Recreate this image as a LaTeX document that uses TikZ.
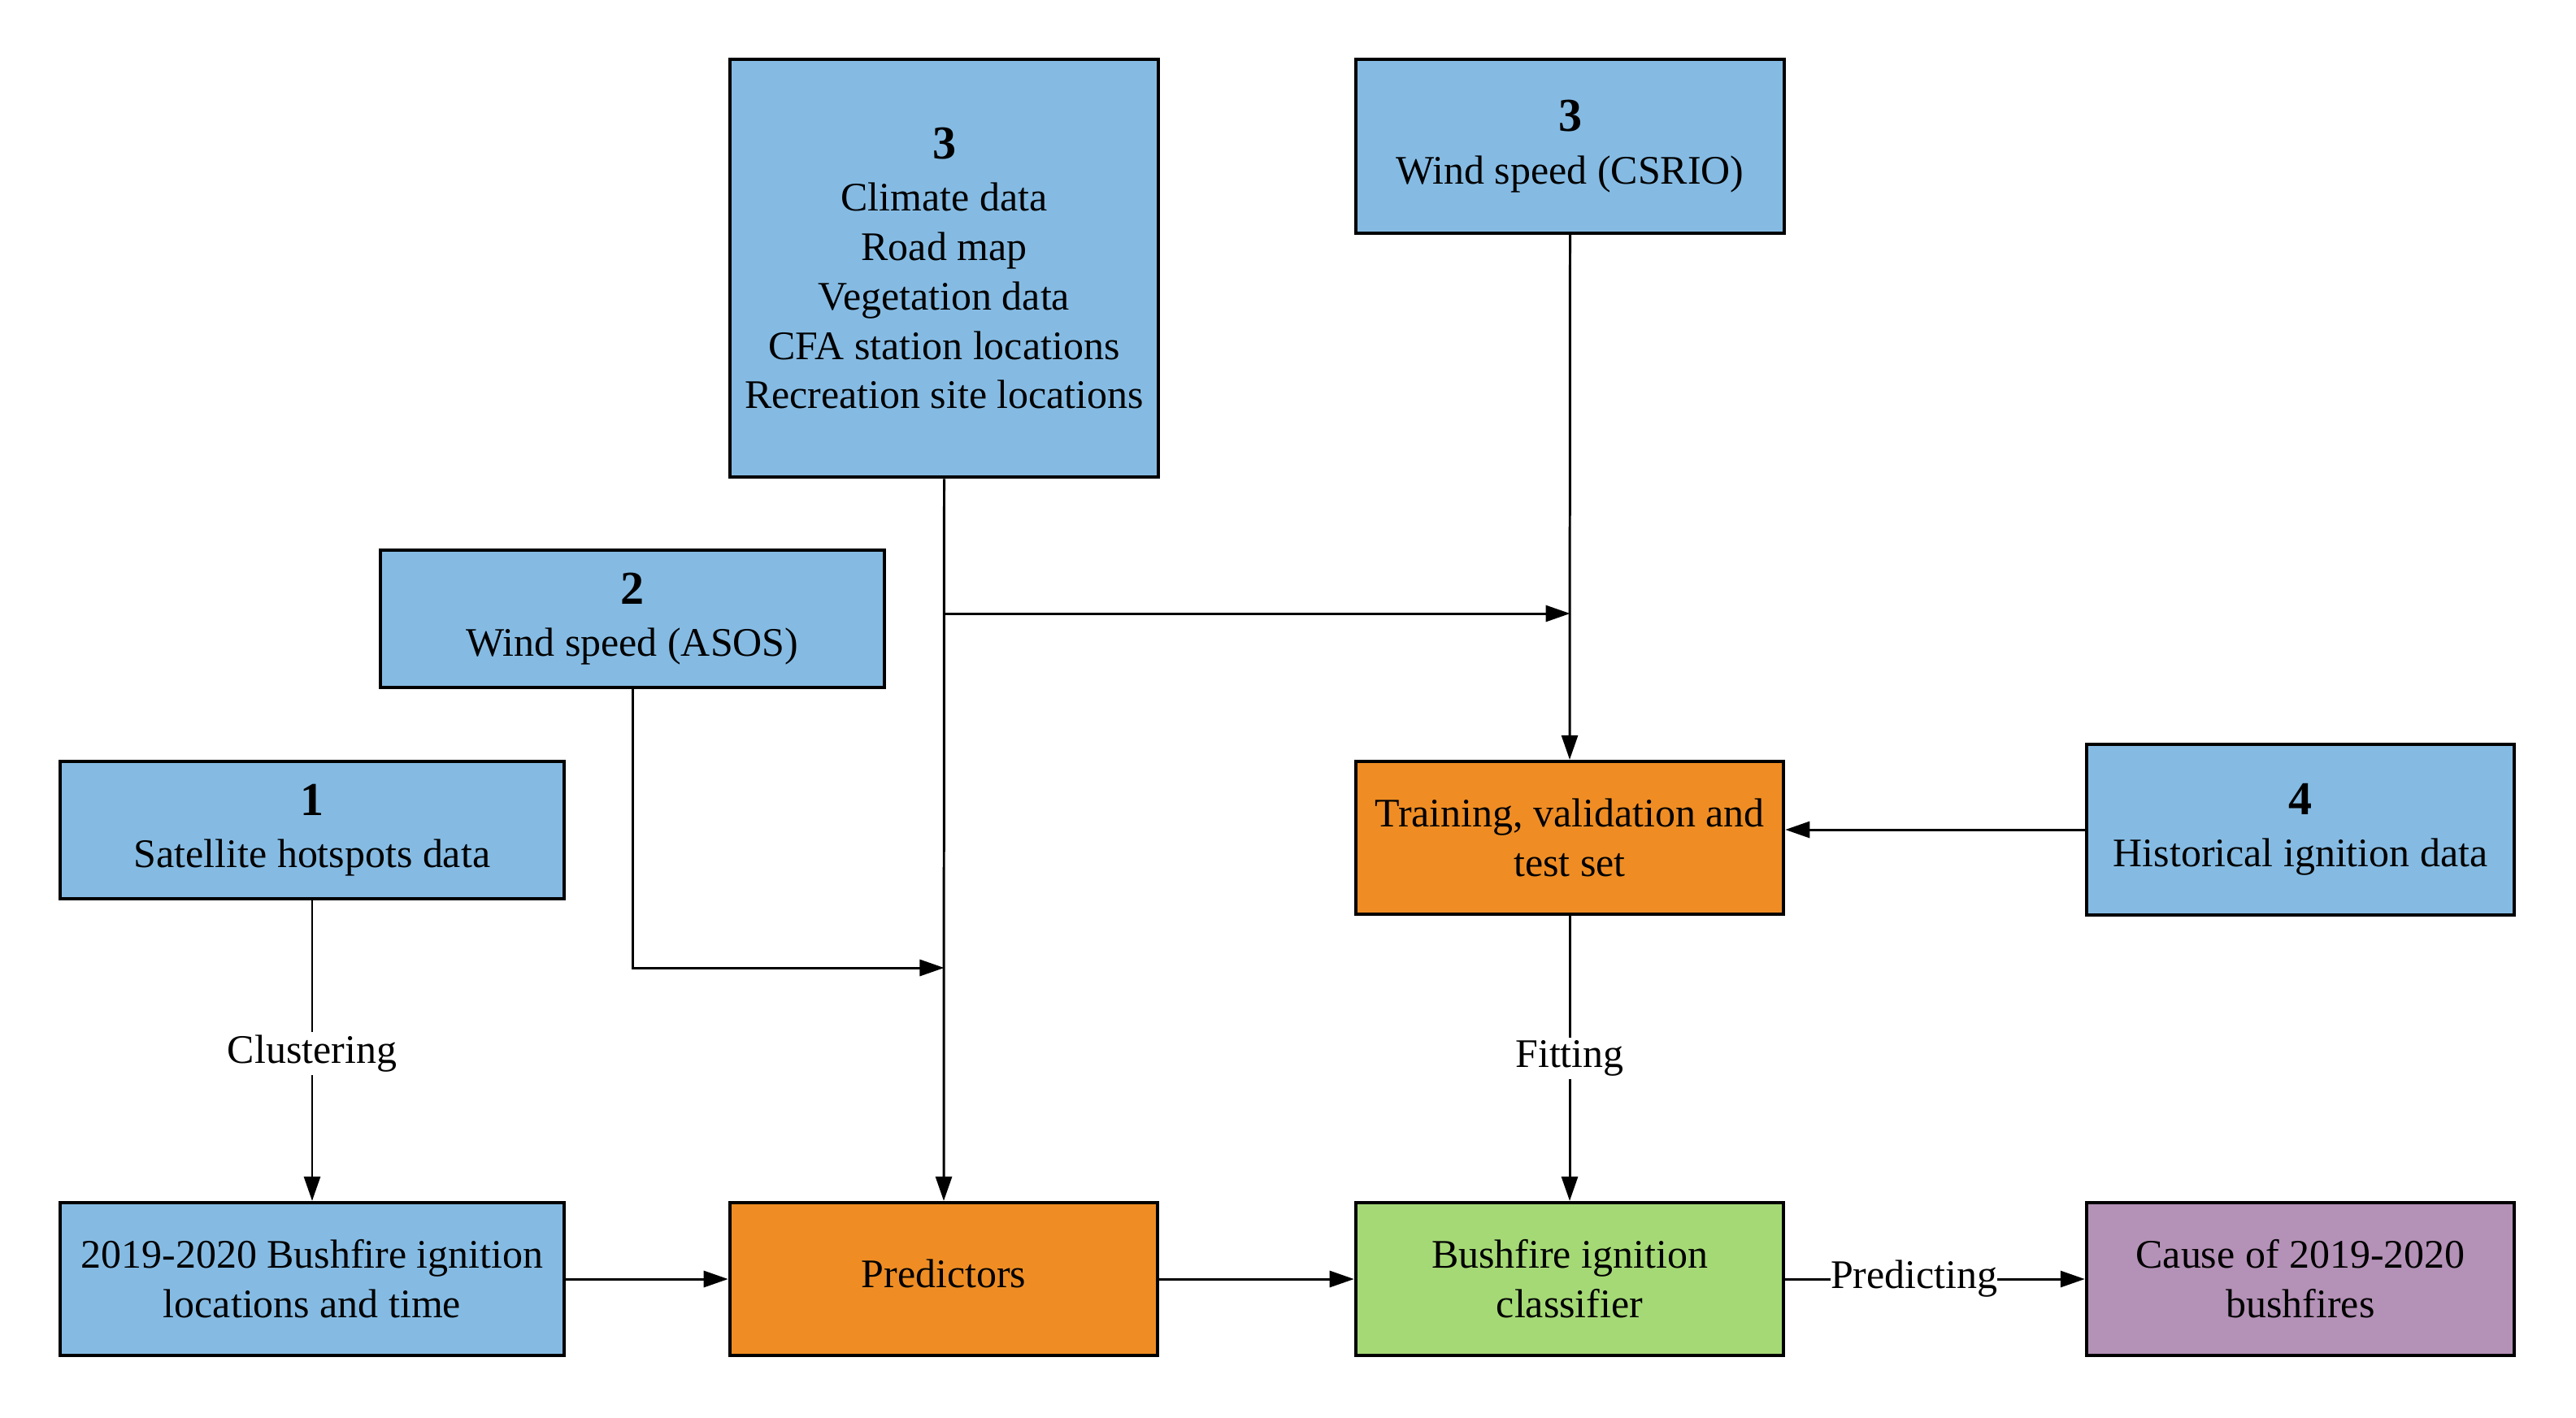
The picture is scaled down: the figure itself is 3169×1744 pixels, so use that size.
\documentclass[tikz,border=0pt]{standalone}
\usepackage{fontspec}
\setmainfont{Liberation Serif}
\usetikzlibrary{arrows.meta,calc}
\definecolor{cblue}{RGB}{133,187,227}
\definecolor{corange}{RGB}{239,141,36}
\definecolor{cgreen}{RGB}{165,217,118}
\definecolor{cpurple}{RGB}{180,145,182}
\begin{document}
\begin{tikzpicture}[x=0.01cm,y=-0.01cm,
  box/.style={draw=black,line width=1.2pt,align=center,inner sep=0pt,
    font=\fontsize{14.2}{17.3}\selectfont},
  bluebox/.style={box,fill=cblue},
  orbox/.style={box,fill=corange},
  conn/.style={line width=0.85pt,-{Triangle[length=0.3cm,width=0.2cm]}},
  lbl/.style={fill=white,inner sep=1pt,font=\fontsize{14.2}{16}\selectfont}]
\useasboundingbox (0,0) rectangle (3169,1744);
\newcommand{\numb}[1]{{\fontsize{16.5}{19}\selectfont\bfseries #1}}
\node[bluebox,minimum width=5.27cm,minimum height=5.14cm] (b3) at (1161.5,330)
  {\numb{3}\\[1pt] Climate data\\ Road map\\ Vegetation data\\ CFA station locations\\ Recreation site locations};
\node[bluebox,minimum width=5.27cm,minimum height=2.14cm] (cs) at (1931.5,180)
  {\numb{3}\\[1pt] Wind speed (CSRIO)};
\node[bluebox,minimum width=6.2cm,minimum height=1.69cm] (b2) at (778,761.5)
  {\numb{2}\\[1pt] Wind speed (ASOS)};
\node[bluebox,minimum width=6.2cm,minimum height=1.69cm] (b1) at (384,1021.5)
  {\numb{1}\\[1pt] Satellite hotspots data};
\node[orbox,minimum width=5.26cm,minimum height=1.88cm] (tr) at (1931,1031)
  {Training, validation and\\ test set};
\node[bluebox,minimum width=5.26cm,minimum height=2.1cm] (b4) at (2830,1021)
  {\numb{4}\\[1pt] Historical ignition data};
\node[bluebox,minimum width=6.2cm,minimum height=1.88cm] (bl) at (384,1574)
  {2019-2020 Bushfire ignition\\ locations and time};
\node[orbox,minimum width=5.26cm,minimum height=1.88cm] (pr) at (1161,1574)
  {\raisebox{4pt}{Predictors}};
\node[box,fill=cgreen,minimum width=5.26cm,minimum height=1.88cm] (cl) at (1931,1574)
  {Bushfire ignition\\ classifier};
\node[box,fill=cpurple,minimum width=5.26cm,minimum height=1.88cm] (ca) at (2830,1574)
  {Cause of 2019-2020\\ bushfires};
% connectors
\coordinate (j3) at (b3.south |- 0,755);
\coordinate (j2) at (b3.south |- 0,1191);
\draw[conn] (b3.south) -- (pr.north);
\draw[conn] (j3) -- (j3 -| cs.south);
\draw[conn] (b2.south) |- (j2);
\draw[conn] (cs.south) -- (tr.north);
\draw[conn] (b4.west) -- (b4.west -| tr.east);
\draw[conn] (b1.south) -- node[lbl,pos=0.51]{Clustering} (bl.north);
\draw[conn] (tr.south) -- node[lbl,pos=0.5]{Fitting} (cl.north);
\draw[conn] (bl.east) -- (pr.west);
\draw[conn] (pr.east) -- (cl.west);
\draw[conn] (cl.east) -- node[lbl,pos=0.43,inner xsep=0pt]{Predicting} (ca.west);
\end{tikzpicture}
\end{document}
